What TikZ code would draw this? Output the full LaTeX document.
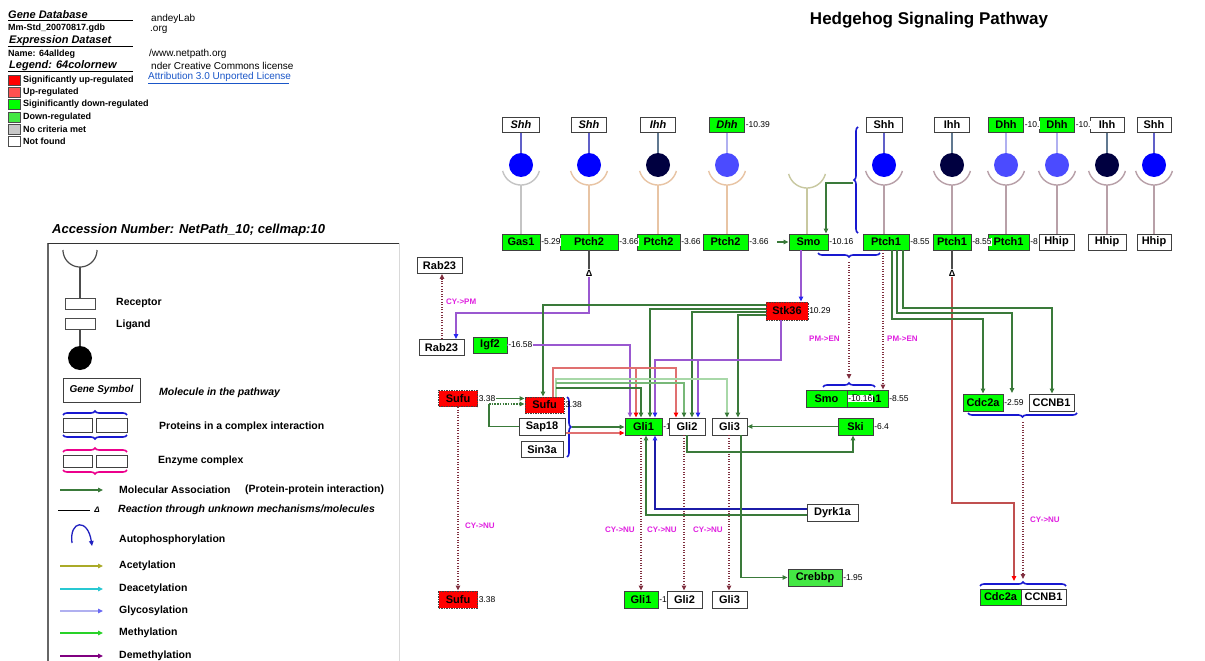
\documentclass[tikz,border=0pt]{standalone}
\usepackage{fontspec}
\setmainfont{Liberation Sans}
\usetikzlibrary{arrows.meta,decorations.pathreplacing,calc}
\definecolor{sigup}{HTML}{FF0000}
\definecolor{upreg}{HTML}{FF5050}
\definecolor{sigdown}{HTML}{00FF00}
\definecolor{downreg}{HTML}{44E844}
\definecolor{nocrit}{HTML}{C8C8C8}
\definecolor{assocg}{HTML}{3A7A3A}
\definecolor{lg1}{HTML}{A8D8A8}
\definecolor{lg2}{HTML}{78B878}
\definecolor{purp}{HTML}{9A58D0}
\definecolor{arrblue}{HTML}{2828F0}
\definecolor{dotred}{HTML}{803040}
\definecolor{redl}{HTML}{E07070}
\definecolor{redv}{HTML}{C05050}
\definecolor{magtxt}{HTML}{E020E0}
\definecolor{brc}{HTML}{1818D0}
\definecolor{shhc}{HTML}{0000FF}
\definecolor{ihhc}{HTML}{000040}
\definecolor{dhhc}{HTML}{4B4BFF}
\definecolor{shhl}{HTML}{6060C8}
\definecolor{ihhl}{HTML}{607890}
\definecolor{dhhl}{HTML}{B0B0F0}
\definecolor{cgray}{HTML}{C4C4C4}
\definecolor{cpeach}{HTML}{E8C4A4}
\definecolor{ckhaki}{HTML}{C8C8A0}
\definecolor{cmauve}{HTML}{B8A0A8}
\definecolor{linkblue}{HTML}{1A56C8}
\newcommand\hcup[3]{\draw[#3, line width=1.4pt] plot[domain=15:165, samples=30] ({#1+19*cos(\x)},{#2+19*sin(\x)});}
\begin{document}
\begin{tikzpicture}[x=1pt,y=-1pt,
 gene/.style={draw=black!75, line width=0.9pt, fill=white, minimum height=16pt, inner sep=1pt, font=\bfseries\fontsize{11}{12}\selectfont},
 lig/.style={gene, minimum height=15pt, font=\bfseries\itshape\fontsize{11}{12}\selectfont},
 ligr/.style={gene, minimum height=15pt},
 gn/.style={fill=sigdown},
 rd/.style={fill=sigup, dash pattern=on 1.5pt off 1pt},
 val/.style={anchor=west, inner sep=0.6pt, fill=white, font=\fontsize{8.5}{9}\selectfont},
 loc/.style={anchor=west, text=magtxt, inner sep=0pt, font=\bfseries\fontsize{8}{9}\selectfont},
 ah/.style={-{Triangle[length=5pt,width=4.5pt]}},
 ahb/.style={-{Triangle[length=5pt,width=4.5pt,color=arrblue]}},
 ahr/.style={-{Triangle[length=5pt,width=4.5pt,color=red]}},
 assoc/.style={draw=assocg, line width=1.1pt},
 loclink/.style={draw=dotred, line width=1.1pt, dash pattern=on 1pt off 1.6pt, -{Triangle[length=5pt,width=4.5pt]}},
 cbrace/.style={draw=brc, line width=1.6pt, decorate, decoration={brace, amplitude=4pt}},
 mbrace/.style={draw=magenta, line width=1.6pt, decorate, decoration={brace, amplitude=4pt}},
 txt/.style={anchor=west, inner sep=0pt, font=\bfseries\fontsize{10.5}{11}\selectfont},
 stxt/.style={anchor=west, inner sep=0pt, font=\bfseries\fontsize{9}{10}\selectfont},
 rtxt/.style={anchor=west, inner sep=0pt, font=\fontsize{10}{11}\selectfont},
 hdr/.style={anchor=west, inner sep=0pt, font=\bfseries\itshape\fontsize{11}{12}\selectfont},
 dl/.style={inner sep=0.5pt, font=\bfseries\fontsize{9}{9}\selectfont},
]
\useasboundingbox (0,0) rectangle (1205,661);
\fill[white] (0,0) rectangle (1205,661);

% ---------- top-left information ----------
\node[hdr] (gdb) at (8,15) {Gene Database};
\draw[line width=1pt] (8,21) -- (133,21);
\node[stxt] (gdbf) at (8,28) {Mm-Std\_20070817.gdb};
\node[hdr] (eds) at (9,41) {Expression Dataset};
\draw[line width=1pt] (8,47) -- (133,47);
\node[stxt] (edn) at (8,54) {Name: 64alldeg};
\node[hdr] (lgd) at (9,66) {Legend: 64colornew};
\draw[line width=1pt] (8,72) -- (133,72);
\foreach \yy/\cc/\tt in {80/sigup/Significantly up-regulated,92/upreg/Up-regulated,104/sigdown/Siginificantly down-regulated,117/downreg/Down-regulated,129/nocrit/No criteria met,141/white/Not found}{
  \filldraw[fill=\cc, draw=black!70, line width=0.7pt] (8,\yy-5) rectangle (20,\yy+5);
  \node[stxt] at (23,\yy) {\tt};
}
\node[rtxt] (t1) at (151,19) {andeyLab};
\node[rtxt] (t2) at (150,30) {.org};
\node[rtxt] (t3) at (149,54) {/www.netpath.org};
\node[rtxt] (t4) at (151,66) {nder Creative Commons license};
\node[rtxt, text=linkblue] (t5) at (148,77) {Attribution 3.0 Unported License};
\draw[linkblue, line width=0.6pt] (148,83.5) -- (289,83.5);

\node[inner sep=0pt, font=\bfseries\fontsize{17}{19}\selectfont] (title) at (929,20) {Hedgehog Signaling Pathway};

% ---------- left legend ----------
\node[anchor=west, inner sep=0pt, font=\bfseries\itshape\fontsize{13}{14}\selectfont] (acc) at (52,230) {Accession Number: NetPath\_10; cellmap:10};
\draw[black!60, line width=1.6pt] (48,665) -- (48,243);
\draw[black!80, line width=1pt] (48,243) -- (399,243);
\draw[black!15, line width=0.8pt] (399,243) -- (399,665);
\draw[black!70, line width=1.2pt] plot[domain=0:180,samples=30] ({80+17*cos(\x)},{250+17*sin(\x)});
\draw[black!70, line width=1.2pt] (80,267) -- (80,298);
\draw[black!70, line width=0.9pt] (65,298) rectangle (95,309);
\draw[black!70, line width=0.9pt] (65,318) rectangle (95,329);
\draw[black!70, line width=1.2pt] (80,329) -- (80,347);
\fill[black] (80,358) circle[radius=12];
\node[txt] at (116,303) {Receptor};
\node[txt] at (116,325) {Ligand};
\node[gene, font=\bfseries\itshape\fontsize{10}{11}\selectfont, minimum width=77pt, minimum height=24pt] (gs) at (101.5,390) {Gene Symbol};
\node[txt, font=\bfseries\itshape\fontsize{10.5}{11}\selectfont] at (159,393) {Molecule in the pathway};
\draw[black!75, line width=0.9pt] (63,418) rectangle (92,432);
\draw[black!75, line width=0.9pt] (96,418) rectangle (127,432);
\draw[cbrace] (63,415) -- (127,415);
\draw[cbrace] (127,435) -- (63,435);
\node[txt] at (159,427) {Proteins in a complex interaction};
\draw[black!75, line width=0.9pt] (63,455) rectangle (92,467);
\draw[black!75, line width=0.9pt] (96,455) rectangle (127,467);
\draw[mbrace] (63,452) -- (127,452);
\draw[mbrace] (127,470) -- (63,470);
\node[txt] at (158,461) {Enzyme complex};
\draw[assocg, line width=1.2pt, ah] (60,490) -- (103,490);
\node[txt] at (119,490) {Molecular Association};
\node[txt] at (245,490) {(Protein-protein interaction)};
\draw[black, line width=0.8pt] (58,510) -- (90,510);
\node[dl, font=\itshape\bfseries\fontsize{8}{8}\selectfont] at (97,510) {Δ};
\node[txt, font=\bfseries\itshape\fontsize{10.5}{11}\selectfont] at (118,510) {Reaction through unknown mechanisms/molecules};
\draw[arrblue!80!black, line width=1.3pt, -{Triangle[length=5pt,width=4.5pt]}] (72,543) .. controls (69,520) and (88,518) .. (92,546);
\node[txt] at (119,540) {Autophosphorylation};
\draw[draw={rgb,255:red,170;green,170;blue,40}, line width=1.2pt, ah] (60,566) -- (103,566);
\node[txt] at (119,566) {Acetylation};
\draw[draw={rgb,255:red,40;green,200;blue,210}, line width=1.2pt, ah] (60,589) -- (103,589);
\node[txt] at (119,589) {Deacetylation};
\draw[draw={rgb,255:red,176;green,176;blue,240}, line width=1.2pt, -{Triangle[length=5pt,width=4.5pt,color=arrblue!70]}] (60,611) -- (103,611);
\node[txt] at (119,611) {Glycosylation};
\draw[draw={rgb,255:red,40;green,210;blue,40}, line width=1.2pt, ah] (60,633) -- (103,633);
\node[txt] at (119,633) {Methylation};
\draw[draw={rgb,255:red,128;green,0;blue,128}, line width=1.2pt, ah] (60,656) -- (103,656);
\node[txt] at (119,656) {Demethylation};

% ---------- ligands ----------
\node[lig, minimum width=37pt] (l1) at (521,125) {Shh};
\node[lig, minimum width=35pt] (l2) at (589,125) {Shh};
\node[lig, minimum width=35pt] (l3) at (658,125) {Ihh};
\node[lig, gn, minimum width=35pt] (l4) at (727,125) {Dhh};
\node[ligr, minimum width=36pt] (l6) at (884,125) {Shh};
\node[ligr, minimum width=35pt] (l7) at (952,125) {Ihh};
\node[ligr, gn, minimum width=35pt] (l8) at (1006,125) {Dhh};
\node[ligr, gn, minimum width=35pt] (l9) at (1057,125) {Dhh};
\node[ligr, minimum width=34pt] (l10) at (1107,125) {Ihh};
\node[ligr, minimum width=34pt] (l11) at (1154,125) {Shh};
\node[val] at (l4.east) {-10.39};
\node[val] at (l8.east) {-10.};
\node[val] at (l9.east) {-10.};

% ---------- cups ----------
\hcup{521}{166}{cgray}
\hcup{589}{166}{cpeach}
\hcup{658}{166}{cpeach}
\hcup{727}{166}{cpeach}
\hcup{807}{169}{ckhaki}
\hcup{884}{166}{cmauve}
\hcup{952}{166}{cmauve}
\hcup{1006}{166}{cmauve}
\hcup{1057}{166}{cmauve}
\hcup{1107}{166}{cmauve}
\hcup{1154}{166}{cmauve}

% ---------- bound ligand circles ----------
\foreach \nm/\xx/\cc in {c1/521/shhc,c2/589/shhc,c3/658/ihhc,c4/727/dhhc,c6/884/shhc,c7/952/ihhc,c8/1006/dhhc,c9/1057/dhhc,c10/1107/ihhc,c11/1154/shhc}{
  \node[circle, fill=\cc, minimum size=24pt, inner sep=0pt] (\nm) at (\xx,165) {};
}
\draw[shhl, line width=1.2pt] (l1) -- (c1);
\draw[shhl, line width=1.2pt] (l2) -- (c2);
\draw[ihhl, line width=1.2pt] (l3) -- (c3);
\draw[dhhl, line width=1.2pt] (l4) -- (c4);
\draw[shhl, line width=1.2pt] (l6) -- (c6);
\draw[ihhl, line width=1.2pt] (l7) -- (c7);
\draw[dhhl, line width=1.2pt] (l8) -- (c8);
\draw[dhhl, line width=1.2pt] (l9) -- (c9);
\draw[ihhl, line width=1.2pt] (l10) -- (c10);
\draw[shhl, line width=1.2pt] (l11) -- (c11);

% ---------- receptors ----------
\node[gene, gn, minimum width=38pt] (r1) at (521,242) {Gas1};
\node[gene, gn, minimum width=58pt] (r2) at (589,242) {Ptch2};
\node[gene, gn, minimum width=43pt] (r3) at (658.5,242) {Ptch2};
\node[gene, gn, minimum width=45pt] (r4) at (725.5,242) {Ptch2};
\node[gene, gn, minimum width=39pt] (r5) at (808.5,242) {Smo};
\node[gene, gn, minimum width=46pt] (r6) at (886,242) {Ptch1};
\node[gene, gn, minimum width=38pt] (r7) at (952,242) {Ptch1};
\node[gene, gn, minimum width=41pt] (r8) at (1008.5,242) {Ptch1};
\node[gene, minimum width=35pt] (r9) at (1056.5,242) {Hhip};
\node[gene, minimum width=38pt] (r10) at (1107,242) {Hhip};
\node[gene, minimum width=34pt] (r11) at (1154,242) {Hhip};
\node[val] at (r1.east) {-5.29};
\node[val] at (r2.east) {-3.66};
\node[val] at (r3.east) {-3.66};
\node[val] at (r4.east) {-3.66};
\node[val] at (r5.east) {-10.16};
\node[val] at (r6.east) {-8.55};
\node[val] at (r7.east) {-8.55};
\node[val, fill=none] at (r8.east) {-8};

\foreach \xx/\cc/\rr in {521/cgray/r1,589/cpeach/r2,658/cpeach/r3,727/cpeach/r4,884/cmauve/r6,952/cmauve/r7,1006/cmauve/r8,1057/cmauve/r9,1107/cmauve/r10,1154/cmauve/r11}{
  \coordinate (k) at (\xx,185);
  \draw[\cc, line width=1.3pt] (k) -- (\rr.north -| k);
}
\coordinate (k5) at (807,188);
\draw[ckhaki, line width=1.3pt] (k5) -- (r5.north -| k5);

% ---------- middle molecules ----------
\node[gene, minimum width=45pt] (rab23a) at (439.5,265.5) {Rab23};
\node[gene, minimum width=45pt] (rab23b) at (441.5,347.5) {Rab23};
\node[gene, gn, minimum width=34pt] (igf2) at (490,345) {Igf2};
\node[gene, rd, minimum width=42pt, minimum height=18pt] (stk) at (787,311) {Stk36};
\node[gene, rd, minimum width=39pt] (sufuL) at (458,398.5) {Sufu};
\node[gene, rd, minimum width=39pt] (sufuC) at (544.5,405) {Sufu};
\node[gene, minimum width=46pt, minimum height=17pt] (sap18) at (542,426.5) {Sap18};
\node[gene, minimum width=42pt] (sin3a) at (542,449.5) {Sin3a};
\node[gene, gn, minimum width=37pt, minimum height=17pt] (gli1) at (643.5,426.5) {Gli1};
\node[val, fill=none] (g1v) at (gli1.east) {-1};
\node[gene, minimum width=36pt, minimum height=17pt] (gli2) at (687,426.5) {Gli2};
\node[gene, minimum width=35pt, minimum height=17pt] (gli3) at (729.5,426.5) {Gli3};
\node[gene, gn, minimum width=35pt, minimum height=17pt] (ski) at (855.5,426.5) {Ski};
\node[gene, gn, minimum width=43pt, minimum height=17pt] (ptch1b) at (866.5,398.5) {Ptch1};
\node[gene, gn, minimum width=41pt, minimum height=17pt] (smob) at (826.5,398.5) {Smo};
\node[gene, gn, minimum width=40pt, minimum height=17pt] (cdc2a) at (983,402.5) {Cdc2a};
\node[gene, minimum width=45pt, minimum height=17pt] (ccnb1) at (1051.5,402.5) {CCNB1};
\node[gene, minimum width=51pt, minimum height=17pt] (dyrk) at (832.5,512.5) {Dyrk1a};
\node[gene, fill=downreg, minimum width=54pt, minimum height=17pt] (crebbp) at (815,577.5) {Crebbp};
\node[gene, rd, minimum width=39pt, minimum height=17pt] (sufuLo) at (458,599.5) {Sufu};
\node[gene, gn, minimum width=34pt, minimum height=17pt] (gli1b) at (641,599.5) {Gli1};
\node[val, fill=none] at (gli1b.east) {-1};
\node[gene, minimum width=35pt, minimum height=17pt] (gli2b) at (684.5,599.5) {Gli2};
\node[gene, minimum width=35pt, minimum height=17pt] (gli3b) at (729.5,599.5) {Gli3};
\node[gene, gn, minimum width=41pt] (cdc2ab) at (1000.5,597) {Cdc2a};
\node[gene, minimum width=45pt] (ccnb1b) at (1043.5,597) {CCNB1};

% ---------- connectors ----------
% Ptch2 -> Delta -> Rab23
\node[dl] (d1) at (589,273) {Δ};
\draw[black!70, line width=1.1pt] (r2) -- (d1);
\draw[purp, line width=1.1pt, ahb] (d1.south) -- (589,313) -| (rab23b.north -| 456,0);
% Rab23 -> Rab23
\draw[loclink] (rab23b.north -| 442,0) -- (rab23a.south -| 442,0);
\node[loc] at (446,302) {CY->PM};
% Ptch1 -> Delta -> Cdc2a/CCNB1
\node[dl] (d2) at (952,273) {Δ};
\draw[black!70, line width=1.1pt] (r7) -- (d2);
\draw[redv, line width=1.1pt, ahr] (d2.south) -- (952,503) -| (1014,581);
% Smo -> Stk36
\draw[purp, line width=1.1pt, ahb] (r5.south -| 801,0) -- (stk.north -| 801,0);
% Shh/Ptch1 complex brace
\draw[cbrace] (858,233) -- (858,127);
\draw[assoc, ah] (853,183) -| (r5.north -| 826,0);
\coordinate (smoin) at (777,242);
\draw[assoc, ah] (smoin) -- (r5.west);
% Smo/Ptch1 complex -> endosome
\draw[cbrace] (880,253) -- (818,253);
\draw[cbrace] (823,387) -- (875,387);
\draw[loclink] (849,262) -- (849,379);
\draw[loclink] (r6.south -| 883,0) -- (ptch1b.north -| 883,0);
\node[loc] at (809,339) {PM->EN};
\node[loc] at (887,339) {PM->EN};
% Ptch1 -> Cdc2a / CCNB1
\draw[assoc, ah] (r6.south -| 892,0) |- (983,319) -- (cdc2a.north -| 983,0);
\draw[assoc, ah] (r6.south -| 897,0) |- (1012,313) -- (1012,393);
\draw[assoc, ah] (r6.south -| 903,0) |- (1052,308) -- (ccnb1.north -| 1052,0);
\draw[cbrace] (1077,413) -- (968,413);
\draw[cbrace] (980,586) -- (1066,586);
\draw[loclink] (1023,422) -- (1023,579);
\node[loc] at (1030,520) {CY->NU};
% Stk36 -> Sufu, Gli1-3
\draw[assoc, ah] ($(stk.west)+(0,-6)$) -| (sufuC.north -| 543,0);
\draw[assoc, ah] ($(stk.west)+(0,-2)$) -| (gli1.north -| 650,0);
\draw[assoc, ah] ($(stk.west)+(0,1)$) -| (gli2.north -| 692,0);
\draw[assoc, ah] ($(stk.west)+(0,4)$) -| (gli3.north -| 738,0);
\draw[purp, line width=1.1pt, ahb] (stk.south -| 781,0) -- (781,360) -| (gli1.north -| 655,0);
\draw[purp, line width=1.1pt, ahb] (698,360) -- (gli2.north -| 698,0);
% Igf2 -> Gli1
\draw[purp, line width=1.1pt, ah] (igf2.east) -- (630,345) -- (gli1.north -| 630,0);
\node[val] at (igf2.east) {-16.58};
% Sufu -> Gli1, Gli2 (red)
\draw[redl, line width=1.1pt, ahr] (sufuC.north -| 553,0) |- (676,368) -- (gli2.north -| 676,0);
\draw[redl, line width=1.1pt, ahr] (636,368) -- (gli1.north -| 636,0);
% Sufu complex -> Gli1-3 (green)
\draw[lg1, line width=1.1pt, -{Triangle[length=5pt,width=4.5pt,color=assocg]}] (sufuC.north -| 556,0) |- (727,379) -- (gli3.north -| 727,0);
\draw[lg2, line width=1.1pt, -{Triangle[length=5pt,width=4.5pt,color=assocg]}] (556,383) -| (gli2.north -| 684,0);
\draw[assoc, ah] (556,388) -| (gli1.north -| 641,0);
% Sap18 complex -> Gli1
\draw[cbrace] (567,397) -- (567,457);
\draw[assocg, line width=1.4pt, ah] (572,427) -- (gli1.west |- 0,427);
\draw[redl, line width=1.1pt, ahr] (566,433) -- (gli1.west |- 0,433);
% Sufu -> Sufu complex, Sap18 loop
\draw[assoc, ah] (sufuL.east) -- (sufuC.west |- sufuL.east);
\node[val] at (sufuL.east) {3.38};
\node[val, fill=none] at (sufuC.east) {3.38};
\draw[assoc] (sap18.west) -- (489,426.5) -- (489,404);
\draw[assoc, dash pattern=on 1.5pt off 1.2pt, ah] (489,404) -- (sufuC.west |- 0,404);
% cytoplasm -> nucleus
\draw[loclink] (sufuL.south) -- (sufuLo.north);
\node[val, fill=none] at (sufuLo.east) {3.38};
\node[loc] at (465,526) {CY->NU};
\draw[loclink] (gli1.south -| 641,0) -- (gli1b.north -| 641,0);
\draw[loclink] (gli2.south -| 684,0) -- (gli2b.north -| 684,0);
\draw[loclink] (gli3.south -| 729,0) -- (gli3b.north -| 729,0);
\node[loc] at (605,530) {CY->NU};
\node[loc] at (647,530) {CY->NU};
\node[loc] at (693,530) {CY->NU};
% Dyrk1a -> Gli1
\draw[arrblue!70!black, line width=1.1pt, ahb] (dyrk.west |- 0,509) -| (gli1.south -| 655,0);
\draw[assoc, ah] (dyrk.west |- 0,515) -| (gli1.south -| 646,0);
% Gli2 -> Ski, Ski -> Gli3, Gli3 -> Crebbp
\draw[assoc, ah] (gli2.south) |- (853,452) -- (ski.south -| 853,0);
\draw[assocg, line width=1.4pt, ah] (ski.west) -- (gli3.east);
\draw[assoc, ah] (gli3.south -| 741,0) |- (crebbp.west);
% values
\node[val] at (stk.east) {10.29};
\node[val] at (smob.east) {-10.16};
\node[val] at (ptch1b.east) {-8.55};
\node[val] at (ski.east) {-6.4};
\node[val] at (cdc2a.east) {-2.59};
\node[val] at (crebbp.east) {-1.95};
\end{tikzpicture}
\end{document}
